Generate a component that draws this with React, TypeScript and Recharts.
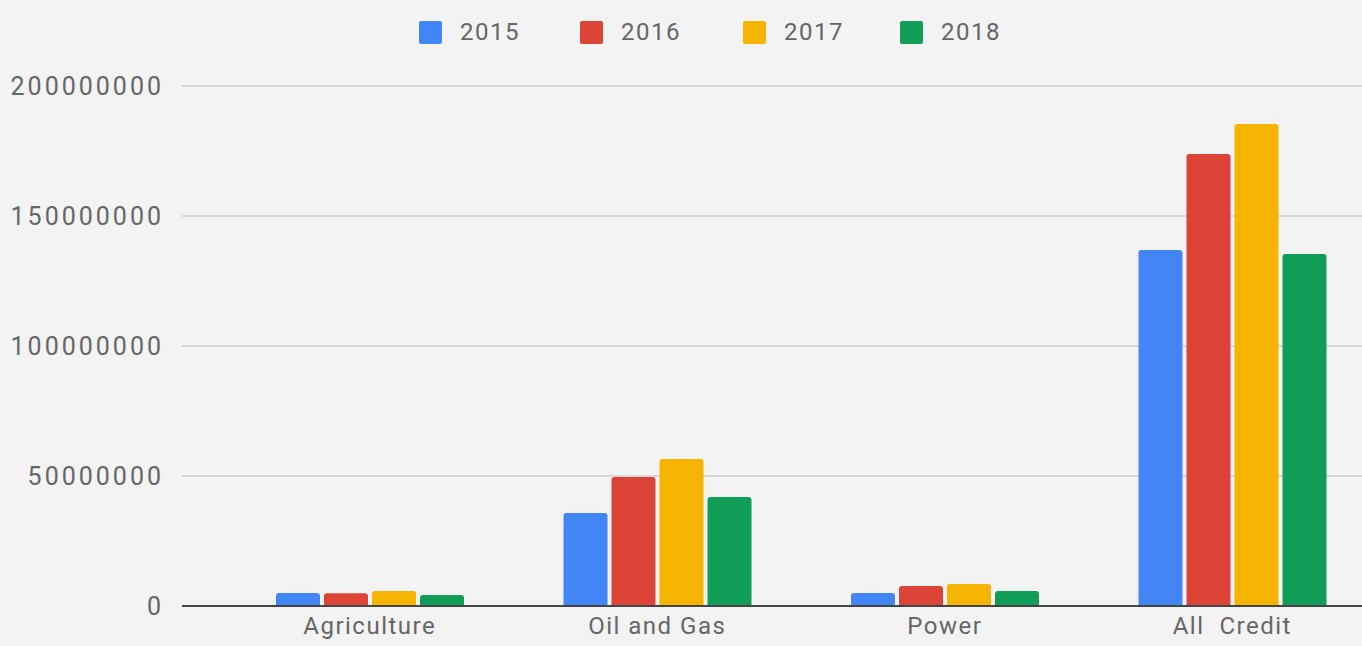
import { BarChart, Bar, XAxis, YAxis, CartesianGrid } from 'recharts';

const categories = ['Agriculture', 'Oil and Gas', 'Power', 'All\u00a0 Credit'];
const years = ['2015', '2016', '2017', '2018'];
const values2015 = [5000000, 35800000, 5000000, 136900000];
const values2016 = [4900000, 49600000, 7700000, 173800000];
const values2017 = [5800000, 56500000, 8500000, 185400000];
const values2018 = [4200000, 41900000, 5800000, 135400000];
const yTicks = [0, 50000000, 100000000, 150000000, 200000000];

const colors = ['#4285f4', '#db4437', '#f4b400', '#0f9d58'];
const series = [values2015, values2016, values2017, values2018];

const data = categories.map((name, i) => {
  const row: Record<string, string | number> = { name };
  years.forEach((y, j) => {
    row[y] = series[j][i];
  });
  return row;
});

const font = 'Roboto, "Noto Sans", sans-serif';
const legendX = [419, 580, 743, 900];

function LegendOverlay() {
  return (
    <>
      {years.map((y, i) => (
        <div
          key={y}
          style={{ position: 'absolute', left: legendX[i], top: 20, display: 'flex', alignItems: 'center', height: 24 }}
        >
          <div style={{ width: 23, height: 23, background: colors[i], borderRadius: 2, marginRight: 18 }} />
          <span style={{ fontFamily: font, fontSize: 24, color: '#666', letterSpacing: 1.5 }}>{y}</span>
        </div>
      ))}
    </>
  );
}

export default function App() {
  return (
    <div
      style={{ position: 'fixed', left: 0, top: 0, width: 1362, height: 646, overflow: 'hidden', background: '#f3f3f3' }}
    >
      <BarChart
        width={1380}
        height={646}
        data={data}
        margin={{ top: 86, right: 4, bottom: 10, left: 0 }}
        barCategoryGap={50}
        barGap={4}
      >
        <CartesianGrid vertical={false} stroke="#cccccc" strokeWidth={1.5} />
        <XAxis
          dataKey="name"
          height={30}
          padding={{ left: 44, right: 0 }}
          axisLine={{ stroke: '#444', strokeWidth: 2 }}
          tickLine={false}
          tickSize={0}
          tickMargin={11}
          interval={0}
          tick={{ fontFamily: font, fontSize: 24, fill: '#666', letterSpacing: 1.5 }}
        />
        <YAxis
          width={182}
          domain={[0, 200000000]}
          ticks={yTicks}
          axisLine={false}
          tickLine={false}
          tickSize={0}
          tickMargin={18}
          tick={{ fontFamily: font, fontSize: 25, fill: '#666', letterSpacing: 3 }}
        />
        {years.map((y, i) => (
          <Bar key={y} dataKey={y} fill={colors[i]} radius={[3, 3, 0, 0]} isAnimationActive={false} />
        ))}
      </BarChart>
      <LegendOverlay />
    </div>
  );
}
